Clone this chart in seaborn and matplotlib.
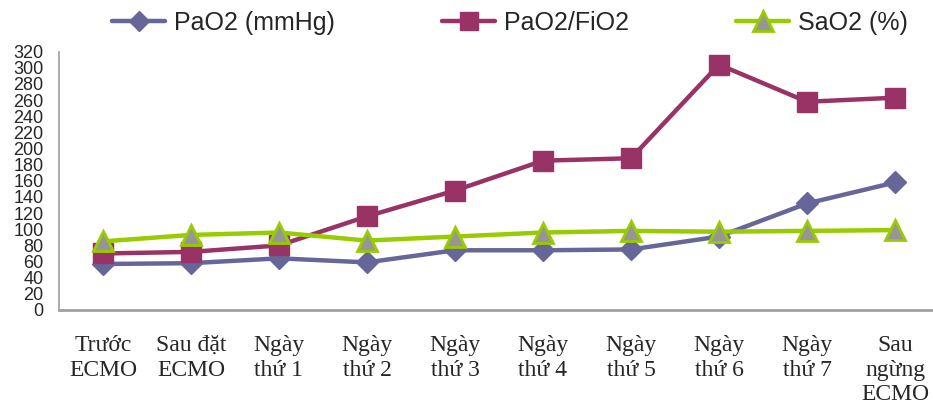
import numpy as np
import pandas as pd
import matplotlib
matplotlib.use("Agg")
import matplotlib.pyplot as plt
import seaborn as sns

# Time points (x categories)
categories = ["Trước\nECMO", "Sau đặt\nECMO", "Ngày\nthứ 1", "Ngày\nthứ 2", "Ngày\nthứ 3",
              "Ngày\nthứ 4", "Ngày\nthứ 5", "Ngày\nthứ 6", "Ngày\nthứ 7", "Sau\nngừng\nECMO"]

# Series values
pao2 = [57, 58, 64, 59, 74, 74, 75, 91, 132, 158]
pao2_fio2 = [70, 72, 80, 116, 148, 185, 188, 304, 258, 263]
sao2 = [85, 93, 96, 86, 91, 96, 98, 97, 98, 99]

series_names = ["PaO2 (mmHg)", "PaO2/FiO2", "SaO2 (%)"]
y_ticks = list(range(0, 321, 20))

sns.set_style("white")
plt.rcParams["font.family"] = ["Liberation Sans", "DejaVu Sans"]

fig = plt.figure(figsize=(9.33, 4.12), dpi=100)
ax = fig.add_axes([59 / 933, 1 - 310 / 412, 880 / 933, (310 - 51.7) / 412])

x = np.arange(len(categories))
df = pd.DataFrame({"x": np.tile(x, 3),
                   "value": pao2 + pao2_fio2 + sao2,
                   "series": np.repeat(series_names, len(categories))})

styles = {
    "PaO2 (mmHg)": dict(color="#666699", marker="D", markersize=11,
                        markerfacecolor="#666699", markeredgecolor="#666699", markeredgewidth=1),
    "PaO2/FiO2": dict(color="#993366", marker="s", markersize=14,
                      markerfacecolor="#993366", markeredgecolor="#993366", markeredgewidth=1),
    "SaO2 (%)": dict(color="#99CC00", marker="^", markersize=15,
                     markerfacecolor="#969696", markeredgecolor="#99CC00", markeredgewidth=2),
}

handles = []
for name in series_names:
    sub = df[df["series"] == name]
    sns.lineplot(data=sub, x="x", y="value", ax=ax, linewidth=3.2, sort=False,
                 legend=False, **styles[name])
    handles.append(ax.lines[-1])

ax.set_xlim(-0.5, len(categories) - 0.5)
ax.set_ylim(0, 320)
ax.set_yticks(y_ticks)
ax.set_yticklabels([str(v) for v in y_ticks], fontsize=13)
ax.set_xticks(x)
ax.set_xticklabels(categories, fontsize=17, family=["Liberation Serif", "DejaVu Serif"],
                   linespacing=1.22, va="top")
ax.set_xticks(np.arange(-0.5, len(categories), 1.0), minor=True)
ax.tick_params(axis="x", which="major", length=0, pad=18)
ax.tick_params(axis="x", which="minor", length=5, width=1, color="#a0a0a0", direction="out")
ax.tick_params(axis="y", length=5, width=1, color="#a0a0a0", direction="out", pad=6)
ax.set_xlabel("")
ax.set_ylabel("")

for side in ["top", "right"]:
    ax.spines[side].set_visible(False)
for side in ["left", "bottom"]:
    ax.spines[side].set_color("#a0a0a0")
    ax.spines[side].set_linewidth(1.2)
ax.spines["bottom"].set_linewidth(2)

fig.legend(handles, series_names, loc="center", bbox_to_anchor=(510 / 933, 1 - 23 / 412),
           ncol=3, frameon=False, fontsize=18, handlelength=2.1, handletextpad=0.36,
           columnspacing=4.3, markerscale=0.95)

fig.savefig("out.png", dpi=100)
